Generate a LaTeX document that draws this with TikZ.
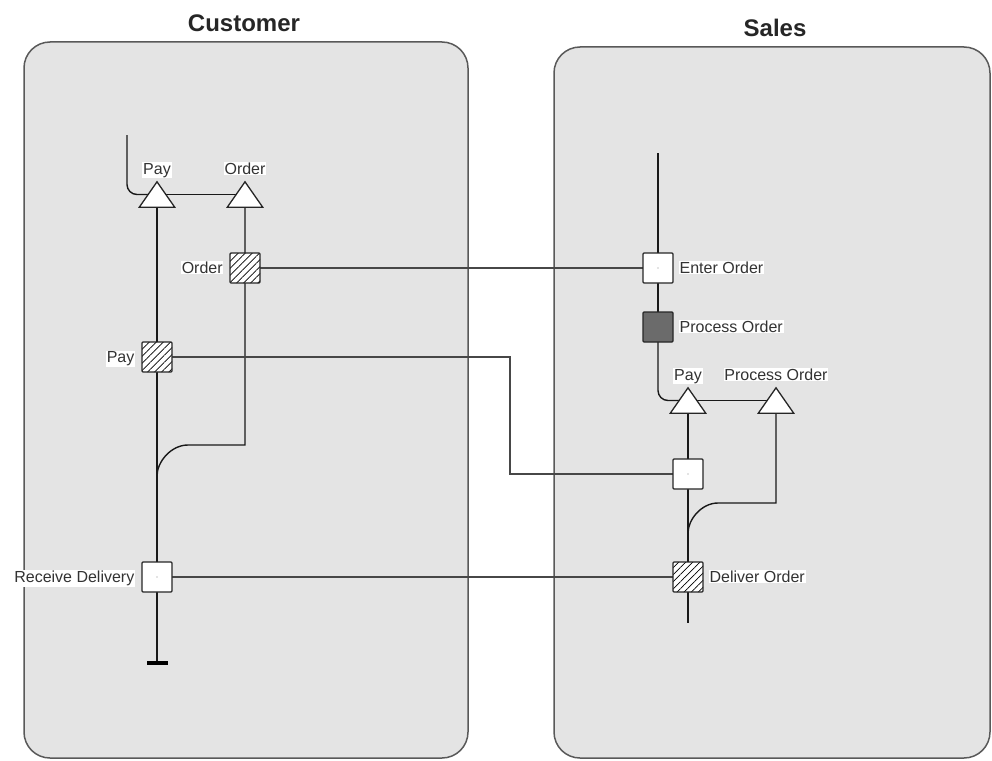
\documentclass[tikz,border=0pt]{standalone}
\usepackage{fontspec}
\setmainfont{Liberation Sans}
\usetikzlibrary{patterns.meta,calc,backgrounds}
\pgfdeclarelayer{lanes}
\pgfsetlayers{lanes,background,main}
\begin{document}
\begin{tikzpicture}[x=1pt,y=-1pt,
  lane/.style={draw=black!65, line width=1.5pt, fill=black!10.5, rounded corners=26pt, inner sep=0},
  lanetitle/.style={font=\fontsize{24}{28}\selectfont\bfseries, text=black!85, anchor=base, inner sep=0},
  lbl/.style={font=\fontsize{16}{19}\selectfont, fill=white, inner sep=0.8pt, text=black!80},
  act/.style={draw=black!85, line width=1.3pt, fill=white, minimum size=30pt, inner sep=0, rounded corners=1pt},
  plainact/.style={act, path picture={\fill[black!45] (path picture bounding box.center) circle[radius=0.7pt];}},
  hatchact/.style={act, preaction={fill=white}, pattern={Lines[angle=45,distance=5pt,line width=0.7pt]}},
  darkact/.style={act, fill=black!58},
  trislot/.style={minimum width=35pt, minimum height=25pt, inner sep=0},
  trishape/.style={draw=black!85, line width=1.3pt, fill=white, line join=miter},
  endbar/.style={fill=black, minimum width=21pt, minimum height=4pt, inner sep=0},
  conn/.style={line width=1.4pt, black!90},
  xlane/.style={line width=1.6pt, black!72}]
\useasboundingbox (0,0) rectangle (992,760);

% lanes
\begin{pgfonlayer}{lanes}
  \node[lane, minimum width=444pt, minimum height=716pt] (custLane) at (246,400) {};
  \node[lane, minimum width=436pt, minimum height=711pt] (salesLane) at (772,402.5) {};
\end{pgfonlayer}
\node[lanetitle] (custTitle) at (244,32) {Customer};
\node[lanetitle] (salesTitle) at (775,37) {Sales};

% customer lane nodes
\coordinate (cstart) at (127,135);
\node[trislot] (payT) at (157,194.5) {};
\node[trislot] (orderT) at (245,194.5) {};
\node[hatchact] (orderBox) at (245,268) {};
\node[hatchact] (payBox) at (157,357) {};
\node[plainact] (recvBox) at (157,577) {};
\node[endbar] (cend) at (157,663) {};
\coordinate (cmA) at (188,445);
\coordinate (cmB) at (157,476);
\coordinate (cmA1) at (170.9,445);
\coordinate (cmB1) at (157,461.9);

% sales lane nodes
\coordinate (sstart) at (658,153);
\node[plainact] (enterBox) at (658,268) {};
\node[darkact] (procBox) at (658,327) {};
\node[trislot] (sPayT) at (688,400.5) {};
\node[trislot] (sProcT) at (776,400.5) {};
\node[plainact] (midBox) at (688,474) {};
\node[hatchact] (delivBox) at (688,577) {};
\coordinate (send) at (688,623);
\coordinate (smA) at (718,503);
\coordinate (smB) at (688,533);
\coordinate (smA1) at (701.4,503);
\coordinate (smB1) at (688,519.6);
\coordinate (xbend) at (510,415);

% triangles
\foreach \t in {payT,orderT,sPayT,sProcT}
  \draw[trishape] (\t.south west) -- (\t.north) -- (\t.south east) -- cycle;

% connectors
\begin{scope}[on background layer]
  \draw[conn, rounded corners=10pt] (cstart) |- (payT.center);
  \draw[conn] (payT.center) -- (orderT.center);
  \draw[conn] (payT.center) -- (payBox.center) -- (recvBox.center) -- (cend.center);
  \draw[conn] (orderT.center) -- (orderBox.center) -- (cmA -| orderBox) -- (cmA) .. controls (cmA1) and (cmB1) .. (cmB);

  \draw[conn] (sstart) -- (enterBox.center) -- (procBox.center);
  \draw[conn, rounded corners=10pt] (procBox.center) |- (sPayT.center);
  \draw[conn] (sPayT.center) -- (sProcT.center);
  \draw[conn] (sPayT.center) -- (midBox.center) -- (delivBox.center) -- (send);
  \draw[conn] (sProcT.center) -- (smA -| sProcT) -- (smA) .. controls (smA1) and (smB1) .. (smB);

  \draw[xlane] (orderBox.center) -- (enterBox.center);
  \draw[xlane] (payBox.center) -| (xbend) |- (midBox.center);
  \draw[xlane] (recvBox.center) -- (delivBox.center);
\end{scope}

% labels
\node[lbl, anchor=base] (lPayT) at ([yshift=7.5pt]payT.north) {Pay};
\node[lbl, anchor=base] (lOrderT) at ([yshift=7.5pt]orderT.north) {Order};
\node[lbl, anchor=base east] (lOrderBox) at ([xshift=-6pt,yshift=-5.5pt]orderBox.west) {Order};
\node[lbl, anchor=base east] (lPayBox) at ([xshift=-6pt,yshift=-5.5pt]payBox.west) {Pay};
\node[lbl, anchor=base east] (lRecv) at ([xshift=-6pt,yshift=-5.5pt]recvBox.west) {Receive Delivery};
\node[lbl, anchor=base west] (lEnter) at ([xshift=5pt,yshift=-5.5pt]enterBox.east) {Enter Order};
\node[lbl, anchor=base west] (lProc) at ([xshift=5pt,yshift=-5.5pt]procBox.east) {Process Order};
\node[lbl, anchor=base] (lsPayT) at ([yshift=7.5pt]sPayT.north) {Pay};
\node[lbl, anchor=base] (lsProcT) at ([yshift=7.5pt]sProcT.north) {Process Order};
\node[lbl, anchor=base west] (lDeliv) at ([xshift=5pt,yshift=-5.5pt]delivBox.east) {Deliver Order};
\end{tikzpicture}
\end{document}
